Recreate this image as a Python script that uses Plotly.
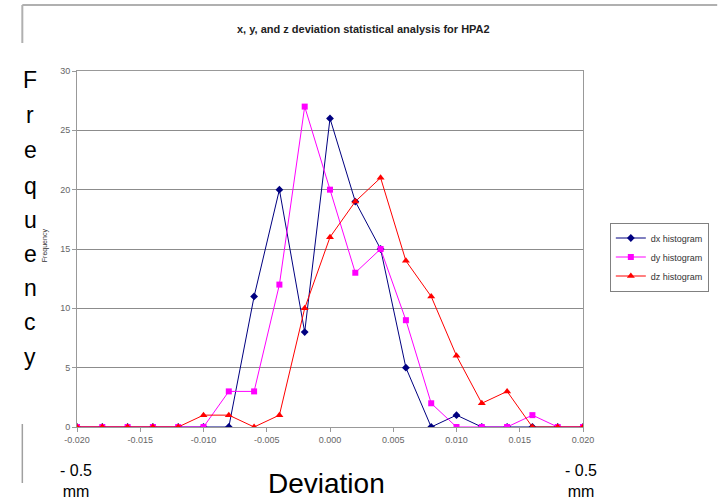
import plotly.graph_objects as go

deviation = [-0.020, -0.018, -0.016, -0.014, -0.012, -0.010, -0.008, -0.006, -0.004, -0.002,
             0.000, 0.002, 0.004, 0.006, 0.008, 0.010, 0.012, 0.014, 0.016, 0.018, 0.020]
dx_hist = [0, 0, 0, 0, 0, 0, 0, 11, 20, 8, 26, 19, 15, 5, 0, 1, 0, 0, 0, 0, 0]
dy_hist = [0, 0, 0, 0, 0, 0, 3, 3, 12, 27, 20, 13, 15, 9, 2, 0, 0, 0, 1, 0, 0]
dz_hist = [0, 0, 0, 0, 0, 1, 1, 0, 1, 10, 16, 19, 21, 14, 11, 6, 2, 3, 0, 0, 0]

x_tickvals = [-0.020, -0.015, -0.010, -0.005, 0.000, 0.005, 0.010, 0.015, 0.020]
x_ticktext = ["-0.020", "-0.015", "-0.010", "-0.005", "0.000", "0.005", "0.010", "0.015", "0.020"]
y_tickvals = [0, 5, 10, 15, 20, 25, 30]

FONT = "Arial, Liberation Sans, sans-serif"
W, H = 721, 503
L, R, T, B = 77, 586, 71, 427


def px(xpix):
    return (xpix - L) / (R - L)


def py(ypix):
    return (B - ypix) / (B - T)


fig = go.Figure()
fig.add_trace(go.Scatter(x=deviation, y=dx_hist, name="dx histogram", mode="lines+markers",
                         line=dict(color="#000080", width=1),
                         marker=dict(symbol="diamond", size=6, color="#000080")))
fig.add_trace(go.Scatter(x=deviation, y=dy_hist, name="dy histogram", mode="lines+markers",
                         line=dict(color="#FF00FF", width=1),
                         marker=dict(symbol="square", size=6, color="#FF00FF")))
fig.add_trace(go.Scatter(x=deviation, y=dz_hist, name="dz histogram", mode="lines+markers",
                         line=dict(color="#FF0000", width=1),
                         marker=dict(symbol="triangle-up", size=7, color="#FF0000")))

fig.update_layout(
    width=W, height=H,
    margin=dict(l=L, r=W - R, t=T, b=H - B, pad=0),
    paper_bgcolor="white", plot_bgcolor="white",
    font=dict(family=FONT, size=9, color="#666666"),
    showlegend=True,
    legend=dict(x=px(613), y=py(257), xanchor="left", yanchor="middle",
                bordercolor="#808080", borderwidth=1, bgcolor="white",
                font=dict(family=FONT, size=9, color="#333333"),
                itemwidth=30, tracegroupgap=0),
    xaxis=dict(range=[-0.020, 0.020], tickvals=x_tickvals, ticktext=x_ticktext,
               showgrid=False, zeroline=False, showline=True, linecolor="#999999", linewidth=1,
               mirror=True, ticks="outside", ticklen=4, tickcolor="#999999",
               tickfont=dict(family=FONT, size=9, color="#666666")),
    yaxis=dict(range=[0, 30], tickvals=y_tickvals, showgrid=True, gridcolor="#8c8c8c", gridwidth=1.2,
               zeroline=False, showline=True, linecolor="#999999", linewidth=1, mirror=True,
               ticks="outside", ticklen=4, tickcolor="#999999",
               tickfont=dict(family=FONT, size=9, color="#666666")),
)

annotations = [
    dict(text="<b>x, y, and z deviation statistical analysis for HPA2</b>",
         x=px(365), y=py(29), xref="paper", yref="paper", showarrow=False,
         font=dict(family=FONT, size=11, color="#222222"), xanchor="center", yanchor="middle"),
    dict(text="Deviation", x=px(328), y=py(483), xref="paper", yref="paper", showarrow=False,
         font=dict(family=FONT, size=28, color="black"), xanchor="center", yanchor="middle"),
    dict(text="- 0.5<br>mm", x=px(76), y=py(481), xref="paper", yref="paper", showarrow=False,
         font=dict(family=FONT, size=16, color="black"), xanchor="center", yanchor="middle", align="center"),
    dict(text="- 0.5<br>mm", x=px(584), y=py(481), xref="paper", yref="paper", showarrow=False,
         font=dict(family=FONT, size=16, color="black"), xanchor="center", yanchor="middle", align="center"),
    dict(text="Frequency", x=px(45), y=py(245), xref="paper", yref="paper", showarrow=False,
         textangle=-90, font=dict(family=FONT, size=7, color="#333333"),
         xanchor="center", yanchor="middle"),
]
letters = list("Frequency")
letter_y = [80, 115, 150, 186, 220, 254, 288, 322, 357]
for ch, ly in zip(letters, letter_y):
    annotations.append(dict(text=ch, x=px(30), y=py(ly), xref="paper", yref="paper", showarrow=False,
                            font=dict(family=FONT, size=23, color="black"),
                            xanchor="center", yanchor="middle"))
fig.update_layout(annotations=annotations)

frame = dict(color="#b0b0b0", width=2)
fig.add_shape(type="line", xref="paper", yref="paper", x0=px(22), x1=px(721), y0=py(5), y1=py(5), line=frame)
fig.add_shape(type="line", xref="paper", yref="paper", x0=px(22), x1=px(22), y0=py(5), y1=py(43), line=frame)
fig.add_shape(type="line", xref="paper", yref="paper", x0=px(22), x1=px(22), y0=py(424), y1=py(483),
              line=dict(color="#a0a0a0", width=1.5))

fig.write_html("out.html", config={"displayModeBar": False},
               post_script="document.body.style.margin='0';document.body.style.overflow='hidden';")
